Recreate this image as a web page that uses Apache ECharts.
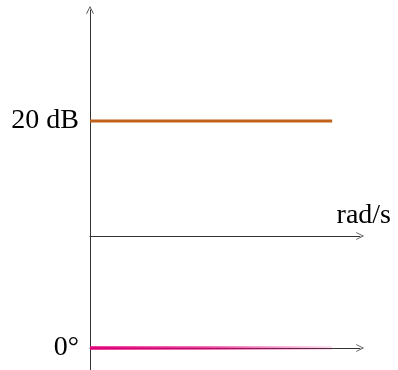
<!DOCTYPE html>
<html><head><meta charset="utf-8">
<script src="https://cdn.jsdelivr.net/npm/echarts@6/dist/echarts.min.js"></script>
<style>html,body{margin:0;padding:0;background:#fff}#c{width:398px;height:370px}</style>
</head><body><div id="c"></div>
<script>
// data
const omega = [0, 10];
const magnitudeDb = [20, 20];
const phaseDeg = [0, 0];
const magLabel = '20 dB';
const phaseLabel = '0°';
const xName = 'rad/s';

const axisColor = '#333';
const font = 'Liberation Serif, DejaVu Serif, serif';
const chevron = 'path://M0,10 L5,0 L10,10 L9.2,10.6 L5,2.0 L0.8,10.6 Z';

const chart = echarts.init(document.getElementById('c'), null, {renderer: 'canvas'});
chart.setOption({
  animation: false,
  grid: [
    {left: 90, top: 10, width: 270, height: 226},
    {left: 90, top: 236, width: 270, height: 134}
  ],
  xAxis: [
    {gridIndex: 0, type: 'value', min: 0, max: 11.15,
     axisLine: {show: true, onZero: false, lineStyle: {color: axisColor, width: 1}, symbol: ['none', chevron], symbolSize: [10, 8]},
     axisTick: {show: false}, axisLabel: {show: false}, splitLine: {show: false},
     name: xName, nameLocation: 'end', nameGap: 31,
     nameTextStyle: {fontFamily: font, fontSize: 28, color: '#000', align: 'right', verticalAlign: 'bottom', padding: [0, 0, 6, 0]}},
    {gridIndex: 1, type: 'value', min: 0, max: 11.15,
     axisLine: {show: true, onZero: true, lineStyle: {color: axisColor, width: 1}, symbol: ['none', chevron], symbolSize: [10, 8]},
     axisTick: {show: false}, axisLabel: {show: false}, splitLine: {show: false}}
  ],
  yAxis: [
    {gridIndex: 0, type: 'value', min: 0, max: 39.3,
     axisLine: {show: true, onZero: false, lineStyle: {color: axisColor, width: 1}, symbol: ['none', chevron], symbolSize: [10, 8]},
     axisTick: {show: false}, splitLine: {show: false},
     axisLabel: {customValues: [20], formatter: () => magLabel, fontFamily: font, fontSize: 28, color: '#000', margin: 11}},
    {gridIndex: 1, type: 'value', min: -22, max: 112,
     axisLine: {show: true, onZero: false, lineStyle: {color: axisColor, width: 1}},
     axisTick: {show: false}, splitLine: {show: false},
     axisLabel: {customValues: [0], formatter: () => phaseLabel, fontFamily: font, fontSize: 28, color: '#000', margin: 11}}
  ],
  series: [
    {type: 'line', xAxisIndex: 0, yAxisIndex: 0, data: omega.map((x, i) => [x, magnitudeDb[i]]),
     symbol: 'none', lineStyle: {color: '#c1621b', width: 3.2}},
    {type: 'line', xAxisIndex: 1, yAxisIndex: 1, data: omega.map((x, i) => [x, phaseDeg[i]]),
     symbol: 'none', z: 5,
     lineStyle: {width: 3.5, color: new echarts.graphic.LinearGradient(0, 0, 1, 0, [
       {offset: 0, color: 'rgba(226,0,122,1)'},
       {offset: 0.5, color: 'rgba(226,0,122,0.7)'},
       {offset: 1, color: 'rgba(226,0,122,0.12)'}])}}
  ]
});
</script></body></html>
